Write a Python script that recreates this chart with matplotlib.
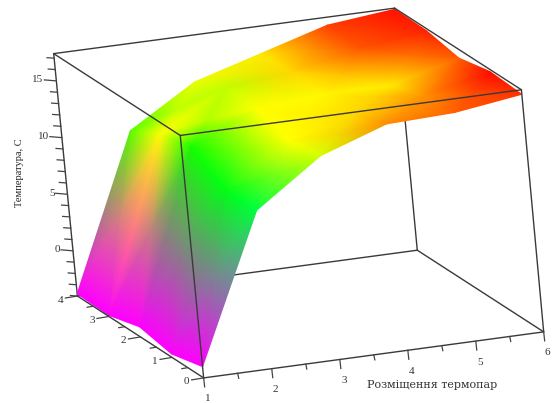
import numpy as np
import matplotlib
matplotlib.use("Agg")
import matplotlib.pyplot as plt
from matplotlib.colors import hsv_to_rgb

# значення
positions = [1, 2, 3, 4, 5, 6]
depths = [0, 1, 2, 3, 4]
temperature = [
    [-3.0, 10.0, 14.0, 16.0, 16.2, 17.0],
    [-3.7, 10.0, 13.5, 15.0, 16.0, 17.2],
    [-3.1, 12.0, 14.5, 15.0, 15.0, 16.6],
    [-3.9, 11.3, 14.6, 15.2, 16.5, 17.2],
    [-3.8, 9.8, 13.3, 15.0, 16.7, 17.3],
]
# відтінок кожної вершини, градуси HSV
vertex_hue = [
    [300, 135, 70, 33, 22, 12],
    [300, 125, 60, 50, 35, 2],
    [300, 115, 60, 58, 55, 22],
    [300, 60, 75, 50, 20, 8],
    [300, 100, 65, 55, 15, 4],
]
z_low, z_high = -4.0, 17.4
z_major = [0, 5, 10, 15]

X_LABEL = "Розміщення термопар"
Z_LABEL = "Температура, C"


# Кути коробки на картинці (пікселі) -> матриця перспективи
def fit_camera():
    corners = [
        ((1, 0, z_low), (204, 378)),
        ((6, 0, z_low), (543, 332)),
        ((1, 4, z_low), (77, 296)),
        ((6, 4, z_low), (418, 250)),
        ((1, 0, z_high), (180, 135)),
        ((6, 0, z_high), (522, 90)),
        ((1, 4, z_high), (54, 54)),
        ((6, 4, z_high), (394, 8)),
    ]
    rows = []
    for (x, y, z), (u, v) in corners:
        rows.append([x, y, z, 1, 0, 0, 0, 0, -u * x, -u * y, -u * z, -u])
        rows.append([0, 0, 0, 0, x, y, z, 1, -v * x, -v * y, -v * z, -v])
    return np.linalg.svd(np.array(rows, float))[2][-1].reshape(3, 4)


camera = fit_camera()


def project(x, y, z):
    x, y, z = np.broadcast_arrays(x, y, z)
    p = np.stack([x, y, z, np.ones_like(x, dtype=float)], axis=-1) @ camera.T
    return p[..., 0] / p[..., 2], p[..., 1] / p[..., 2]


def edge(ax, a, b, zorder):
    u, v = project(*zip(a, b))
    ax.plot(u, v, color="#3a3a3a", lw=1.0, zorder=zorder, solid_capstyle="round")


def tick(ax, point, dx, dy, color="#444444"):
    u, v = project(*point)
    ax.plot([u, u + dx], [v, v + dy], color=color, lw=0.9, zorder=5)


fig = plt.figure(figsize=(5.55, 4.03), dpi=100)
ax = fig.add_axes([0, 0, 1, 1])
ax.set_xlim(0, 555)
ax.set_ylim(403, 0)
ax.axis("off")

# Задні ребра - під поверхнею
edge(ax, (6, 4, z_low), (6, 4, z_high), 1)
edge(ax, (1, 4, z_low), (6, 4, z_low), 1)
edge(ax, (6, 0, z_low), (6, 4, z_low), 1)
edge(ax, (1, 4, z_high), (6, 4, z_high), 1)
edge(ax, (1, 4, z_low), (1, 4, z_high), 1)

# Поверхня, колір задано у вершинах
xx, yy = np.meshgrid(positions, depths)
zz = np.array(temperature)
hue = np.array(vertex_hue) / 360.0
rgb = hsv_to_rgb(np.dstack([hue, np.ones_like(hue), np.ones_like(hue)]))
u, v = project(xx, yy, zz)
ax.pcolormesh(u, v, rgb, shading="gouraud", zorder=2)

# Передні ребра - поверх поверхні
edge(ax, (1, 0, z_low), (1, 0, z_high), 4)
edge(ax, (6, 0, z_low), (6, 0, z_high), 4)
edge(ax, (1, 0, z_high), (6, 0, z_high), 4)
edge(ax, (1, 0, z_high), (1, 4, z_high), 4)
edge(ax, (6, 0, z_high), (6, 4, z_high), 4)
edge(ax, (1, 0, z_low), (6, 0, z_low), 4)
edge(ax, (1, 0, z_low), (1, 4, z_low), 4)

# Поділки
for x in np.arange(1, 6.01, 0.5):
    major = float(x).is_integer()
    tick(ax, (x, 0, z_low), 1, 9 if major else 5)
for y in np.arange(0, 4.01, 0.5):
    major = float(y).is_integer()
    tick(ax, (1, y, z_low), -12 if major else -6, 2 if major else 1)
for z in range(-4, 18):
    major = z in z_major
    tick(ax, (1, 4, z), -12 if major else -7, -1 if major else -0.5)

serif = "Liberation Serif"
for x in positions:
    u, v = project(x, 0, z_low)
    ax.text(u + 4, v + 21, str(x), fontsize=8, family=serif, color="#333333",
            ha="center", va="center")
for y in depths:
    u, v = project(1, y, z_low)
    ax.text(u - 17, v + 4, str(y), fontsize=8, family=serif, color="#333333",
            ha="center", va="center")
for z in z_major:
    u, v = project(1, 4, z)
    ax.text(u - 13, v - 1, str(z), fontsize=8, family=serif, color="#333333",
            ha="right", va="center")

ax.text(432, 385, X_LABEL, fontsize=8, family="DejaVu Serif", color="#333333",
        ha="center", va="center")
ax.text(20, 173, Z_LABEL, fontsize=7.5, family=serif, color="#222222", rotation=90,
        ha="center", va="center")

fig.savefig("out.png", dpi=100)
plt.close(fig)
